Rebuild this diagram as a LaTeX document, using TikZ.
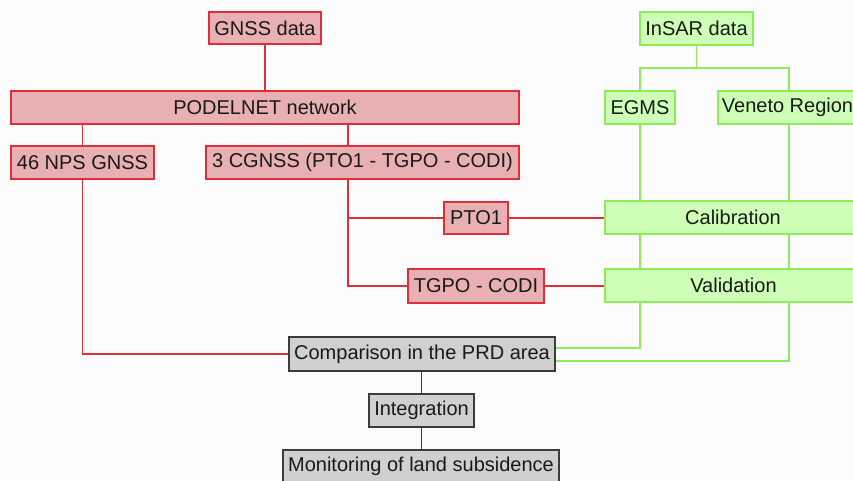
\documentclass[tikz,border=0pt]{standalone}
\usepackage{fontspec}
\setmainfont{Liberation Sans}
\usetikzlibrary{backgrounds}
\definecolor{redline}{RGB}{222,46,56}
\definecolor{redfill}{RGB}{232,176,178}
\definecolor{greenline}{RGB}{140,236,90}
\definecolor{greenfill}{RGB}{206,255,182}
\definecolor{grayline}{RGB}{60,60,60}
\definecolor{grayfill}{RGB}{208,208,208}
\definecolor{txt}{RGB}{25,25,25}
\begin{document}
\begin{tikzpicture}[x=1pt,y=-1pt,
  box/.style={draw, line width=1.5pt, inner sep=0pt, text=txt,
    font=\fontsize{20}{23}\selectfont, minimum width=#1},
  redbox/.style={box=#1, draw=redline, fill=redfill},
  greenbox/.style={box=#1, draw=greenline, fill=greenfill},
  graybox/.style={box=#1, draw=grayline, fill=grayfill},
  redconn/.style={draw=redline, line width=1.2pt},
  greenconn/.style={draw=greenline, line width=1.2pt},
  grayconn/.style={draw=grayline, line width=1.2pt}]
\useasboundingbox (0,0) rectangle (853,480);
\clip (0,0) rectangle (853,480);

% red column
\node[redbox=112, minimum height=32] (gnss) at (265,28) {GNSS data};
\node[redbox=508, minimum height=33] (podel) at (265,107.5) {PODELNET network};
\node[redbox=143, minimum height=33] (nps) at (82.5,162.5) {46 NPS GNSS};
\node[redbox=313, minimum height=33] (cgnss) at (362.5,162.5) {3 CGNSS (PTO1 - TGPO - CODI)};
\node[redbox=64, minimum height=32] (pto1) at (476,218) {PTO1};
\node[redbox=136, minimum height=34] (tgpo) at (476,286) {TGPO - CODI};

% green column
\node[greenbox=113, minimum height=33] (insar) at (696.5,28.5) {InSAR data};
\node[greenbox=70, minimum height=33] (egms) at (640,107.5) {EGMS};
\node[greenbox=139, minimum height=33] (veneto) at (787.5,107.5) {Veneto Region};
\node[greenbox=256, minimum height=33] (calib) at (733,217.5) {Calibration};
\node[greenbox=257, minimum height=33] (valid) at (733.5,285.5) {Validation};

% gray column
\node[graybox=266, minimum height=34] (comp) at (422,354) {Comparison in the PRD area};
\node[graybox=105, minimum height=33] (integ) at (421.5,410.5) {Integration};
\node[graybox=276, minimum height=33] (monit) at (421,466.5) {Monitoring of land subsidence};

\coordinate (c3) at (348,0);
\coordinate (jn) at (696.5,68);
\coordinate (c5) at (789,0);
\coordinate (ya) at (0,348);
\coordinate (yb) at (0,361);

\begin{scope}[on background layer]
  \fill[white!99!black] (0,0) rectangle (853,480);
  \path[redconn] (gnss.south) -- (podel.north);
  \path[redconn] (nps.north) -- (nps.north |- podel.south);
  \path[redconn] (podel.south -| c3) -- (cgnss.north -| c3);
  \path[redconn] (cgnss.south -| c3) |- (tgpo.west);
  \path[redconn] (c3 |- pto1.west) -- (pto1.west);
  \path[redconn] (pto1.east) -- (pto1.east -| calib.west);
  \path[redconn] (tgpo.east) -- (tgpo.east -| valid.west);
  \path[redconn] (nps.south) |- (comp.west);

  \path[greenconn] (insar.south) -- (jn);
  \path[greenconn] (egms.north) |- (jn) -| (c5 |- veneto.north);
  \path[greenconn] (egms.south) -- (egms.south |- ya) -- (comp.east |- ya);
  \path[greenconn] (c5 |- veneto.south) -- (c5 |- yb) -- (comp.east |- yb);

  \path[grayconn] (comp.south -| integ.north) -- (integ.north);
  \path[grayconn] (integ.south) -- (integ.south |- monit.north);
\end{scope}
\end{tikzpicture}
\end{document}
